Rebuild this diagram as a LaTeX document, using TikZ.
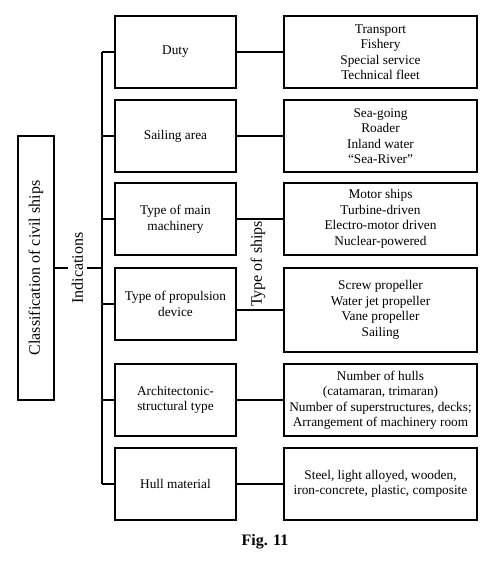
\documentclass[tikz,border=0pt]{standalone}
\usepackage{fontspec}
\setmainfont{Liberation Serif}
\usetikzlibrary{positioning,calc}
\tikzset{
  indbox/.style={draw=black,line width=1.1pt,minimum width=121pt,
    minimum height=72pt,align=center,inner sep=2pt},
  typebox/.style={draw=black,line width=1.1pt,minimum width=193pt,
    minimum height=72pt,align=center,inner sep=2pt},
  sidelabel/.style={rotate=90,font=\fontsize{16}{18}\selectfont,inner sep=4pt},
  link/.style={line width=1.1pt,draw=black},
}

\begin{document}
\begin{tikzpicture}[x=1pt,y=-1pt,font=\fontsize{13.3}{15.5}\selectfont]
  \useasboundingbox (0,0) rectangle (503,574);
  % main box and the two side labels
  \node[draw,line width=1.1pt,rotate=90,minimum width=264pt,minimum height=36pt,
    font=\fontsize{16}{18}\selectfont] (cls) at (36,268) {Classification of civil ships};
  \node[sidelabel] (ind) at (77.5,268) {Indications};
  \node[sidelabel,inner sep=1pt] (typ) at (258,264) {Type of ships};
  \coordinate (ttop) at (102,52);
  \coordinate (tbot) at (102,484);
  % indications
  \node[indbox] (m1) at (175.5,52) {Duty};
  \node[indbox] (m2) at (175.5,136) {Sailing area};
  \node[indbox] (m3) at (175.5,219) {Type of main\\machinery};
  \node[indbox] (m4) at (175.5,304) {Type of propulsion\\device};
  \node[indbox] (m5) at (175.5,400) {Architectonic-\\structural type};
  \node[indbox] (m6) at (175.5,484) {Hull material};
  % types of ships
  \node[typebox] (r1) at (380.5,52) {Transport\\Fishery\\Special service\\Technical fleet};
  \node[typebox] (r2) at (380.5,136) {Sea-going\\Roader\\Inland water\\“Sea-River”};
  \node[typebox] (r3) at (380.5,219) {Motor ships\\Turbine-driven\\Electro-motor driven\\Nuclear-powered};
  \node[typebox,minimum height=84pt] (r4) at (380.5,310) {Screw propeller\\Water jet propeller\\Vane propeller\\Sailing};
  \node[typebox] (r5) at (380.5,400) {Number of hulls\\(catamaran, trimaran)\\Number of superstructures, decks;\\Arrangement of machinery room};
  \node[typebox] (r6) at (380.5,484) {Steel, light alloyed, wooden,\\iron-concrete, plastic, composite};
  \node[font=\fontsize{16}{18}\selectfont\bfseries] (fig) at (265,542) {Fig. 11};
  % connectors
  \draw[link] (cls) -- (ind);
  \draw[link] (ind) -- (ind -| ttop);
  \draw[link] (ttop) -- (tbot);
  \foreach \i in {1,...,6}
    \draw[link] (m\i.west -| ttop) -- (m\i.west);
  \foreach \i in {1,2,3,5,6}
    \draw[link] (m\i) -- (r\i);
  \draw[link] (m4.east |- r4) -- (r4.west);
\end{tikzpicture}
\end{document}
